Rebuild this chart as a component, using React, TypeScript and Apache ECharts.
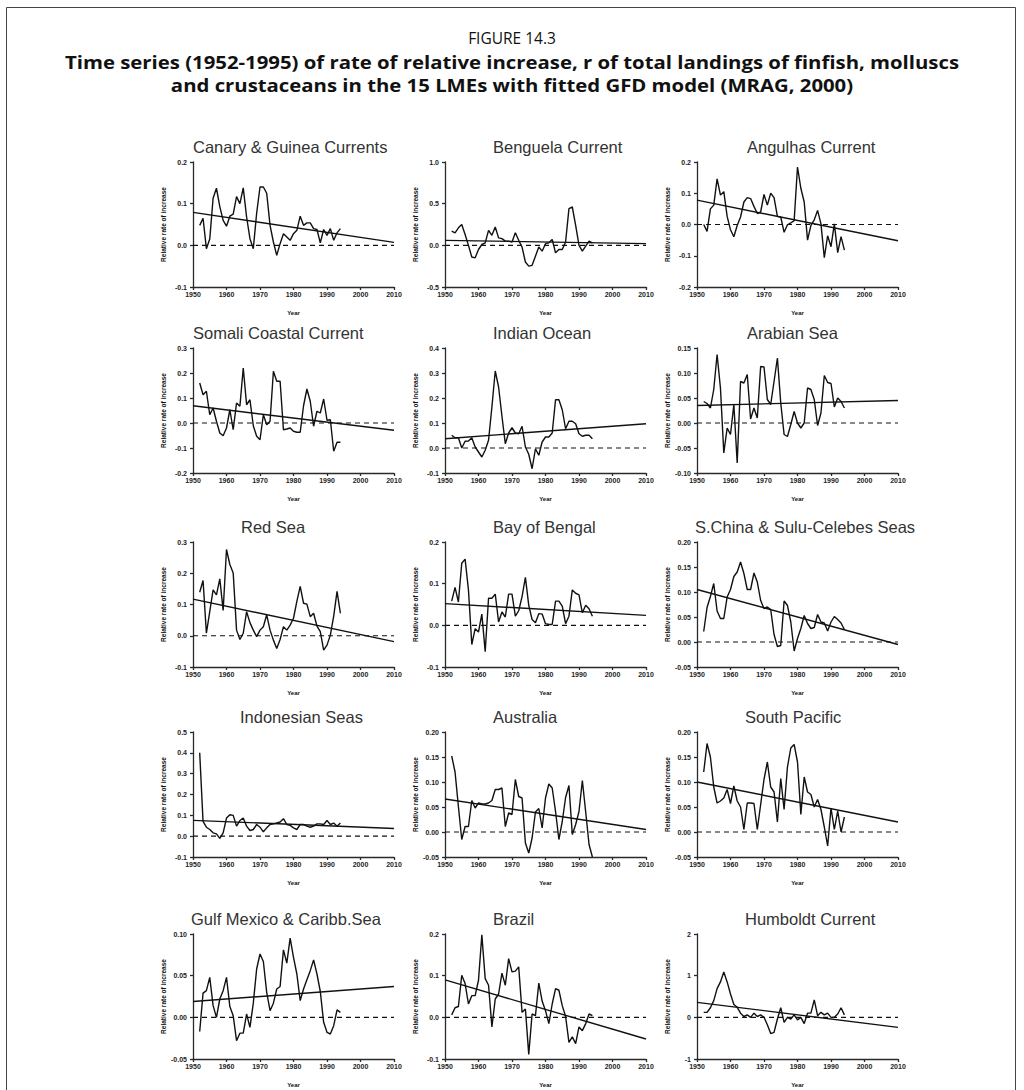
import React, { useEffect, useRef } from "react";
import * as echarts from "echarts";

// ---------- data ----------
const years = [
  1952, 1953, 1954, 1955, 1956, 1957, 1958, 1959,
  1960, 1961, 1962, 1963, 1964, 1965, 1966, 1967, 1968, 1969,
  1970, 1971, 1972, 1973, 1974, 1975, 1976, 1977, 1978, 1979,
  1980, 1981, 1982, 1983, 1984, 1985, 1986, 1987, 1988, 1989,
  1990, 1991, 1992, 1993, 1994,
];

const panelNames = [
  "Canary & Guinea Currents", "Benguela Current", "Angulhas Current",
  "Somali Coastal Current", "Indian Ocean", "Arabian Sea",
  "Red Sea", "Bay of Bengal", "S.China & Sulu-Celebes Seas",
  "Indonesian Seas", "Australia", "South Pacific",
  "Gulf Mexico & Caribb.Sea", "Brazil", "Humboldt Current",
];

const canary = [0.048, 0.065, -0.008, 0.015, 0.113, 0.137, 0.093, 0.06,
  0.046, 0.07, 0.075, 0.117, 0.10, 0.138, 0.068, 0.016, -0.008, 0.077,
  0.14, 0.14, 0.125, 0.048, 0.008, -0.024, 0.004, 0.028, 0.02, 0.012,
  0.028, 0.036, 0.07, 0.048, 0.054, 0.054, 0.04, 0.038, 0.006, 0.038,
  0.024, 0.04, 0.012, 0.03, 0.04];
const benguela = [0.17, 0.15, 0.21, 0.25, 0.13, 0, -0.14, -0.15,
  -0.05, 0.01, 0.03, 0.18, 0.12, 0.22, 0.09, 0.08, 0.05, 0.05,
  0.04, 0.15, 0.06, -0.02, -0.2, -0.25, -0.24, -0.13, -0.02, -0.07,
  0.02, 0.03, 0.07, -0.09, -0.05, -0.05, 0.04, 0.44, 0.46, 0.24,
  0, -0.07, -0.01, 0.05, 0.03];
const angulhas = [0, -0.022, 0.05, 0.062, 0.146, 0.094, 0.105, 0.026,
  -0.017, -0.039, -0.003, 0.024, 0.072, 0.086, 0.083, 0.058, 0.035, 0.04,
  0.096, 0.062, 0.1, 0.086, 0.026, 0.024, -0.025, -0.001, 0.005, 0.012,
  0.184, 0.116, 0.072, -0.05, -0.003, 0.015, 0.045, 0.002, -0.106, -0.036,
  -0.071, 0.002, -0.09, -0.039, -0.082];
const somali = [0.16, 0.113, 0.127, 0.033, 0.06, 0.007, -0.04, -0.051,
  -0.02, 0.053, -0.027, 0.08, 0.067, 0.22, 0.073, 0.093, -0.011, -0.053,
  -0.067, 0.033, -0.007, 0.007, 0.207, 0.167, 0.167, -0.027, -0.024, -0.02,
  -0.033, -0.037, -0.037, 0.069, 0.136, 0.087, -0.013, 0.047, 0.04, 0.096,
  0.011, 0.013, -0.113, -0.077, -0.077];
const indian = [0.051, 0.041, 0.041, 0, 0.027, 0.028, 0.041, 0.004,
  -0.016, -0.036, -0.009, 0.031, 0.164, 0.308, 0.244, 0.127, 0.017, 0.06,
  0.081, 0.06, 0.057, 0.087, 0.004, -0.025, -0.083, -0.003, -0.029, 0.024,
  0.044, 0.044, 0.06, 0.193, 0.193, 0.153, 0.077, 0.107, 0.107, 0.097,
  0.057, 0.047, 0.051, 0.051, 0.037];
const arabian = [0.043, 0.039, 0.03, 0.067, 0.137, 0.07, -0.06, -0.01,
  -0.023, 0.037, -0.08, 0.083, 0.08, 0.097, 0.008, 0.03, 0.01, 0.113,
  0.112, 0.047, 0.037, 0.083, 0.13, 0.04, -0.023, -0.027, -0.003, 0.023,
  0, -0.01, 0, 0.07, 0.067, 0.047, -0.005, 0.02, 0.095, 0.081,
  0.079, 0.032, 0.05, 0.043, 0.03];
const redSea = [0.139, 0.177, 0.008, 0.077, 0.147, 0.131, 0.182, 0.081,
  0.276, 0.228, 0.201, 0.018, -0.012, 0.008, 0.077, 0.042, 0.018, -0.003,
  0.018, 0.029, 0.067, 0.018, -0.014, -0.041, -0.012, 0.029, 0.018, 0.034,
  0.056, 0.11, 0.158, 0.104, 0.101, 0.061, 0.072, 0.031, 0.013, -0.046,
  -0.03, 0.002, 0.063, 0.142, 0.072];
const bengal = [0.058, 0.091, 0.056, 0.149, 0.159, 0.085, -0.046, -0.008,
  -0.016, 0.027, -0.063, 0.065, 0.065, 0.075, 0.008, 0.032, 0.02, 0.075,
  0.075, 0.022, 0.035, 0.069, 0.115, 0.048, 0.014, 0.006, 0.028, 0.027,
  0.004, 0.002, 0.002, 0.058, 0.058, 0.046, 0.004, 0.022, 0.085, 0.077,
  0.073, 0.03, 0.048, 0.04, 0.022];
const sChina = [0.021, 0.069, 0.091, 0.117, 0.062, 0.047, 0.047, 0.09,
  0.105, 0.131, 0.14, 0.16, 0.137, 0.105, 0.105, 0.138, 0.12, 0.083,
  0.067, 0.07, 0.065, 0.015, -0.009, -0.007, 0.082, 0.073, 0.04, -0.018,
  0.007, 0.027, 0.053, 0.037, 0.027, 0.029, 0.055, 0.04, 0.038, 0.022,
  0.04, 0.051, 0.045, 0.038, 0.025];
const indonesian = [0.40, 0.071, 0.043, 0.032, 0.016, 0.011, -0.011, 0.016,
  0.087, 0.103, 0.1, 0.048, 0.075, 0.087, 0.048, 0.027, 0.032, 0.056,
  0.043, 0.021, 0.04, 0.056, 0.059, 0.063, 0.068, 0.084, 0.056, 0.052,
  0.04, 0.032, 0.056, 0.056, 0.048, 0.043, 0.048, 0.059, 0.059, 0.056,
  0.075, 0.056, 0.063, 0.048, 0.063];
const australia = [0.152, 0.12, 0.051, -0.015, 0.011, 0.011, 0.063, 0.048,
  0.058, 0.056, 0.056, 0.058, 0.063, 0.085, 0.085, 0.088, 0.011, 0.038,
  0.035, 0.105, 0.071, 0.068, -0.022, -0.042, -0.012, 0.04, 0.047, 0.008,
  0.068, 0.096, 0.088, 0.041, -0.015, 0.021, 0.069, 0.093, -0.005, 0.015,
  0.041, 0.103, 0.04, -0.025, -0.05];
const southPacific = [0.12, 0.177, 0.15, 0.09, 0.058, 0.062, 0.068, 0.085,
  0.057, 0.092, 0.062, 0.05, 0.005, 0.058, 0.058, 0.057, 0.005, 0.055,
  0.105, 0.14, 0.09, 0.08, 0.02, 0.107, 0.045, 0.13, 0.168, 0.175,
  0.14, 0.035, 0.11, 0.08, 0.075, 0.05, 0.065, 0.045, 0.01, -0.028,
  0.048, 0.005, 0.042, 0.0, 0.03];
const gulf = [-0.017, 0.029, 0.032, 0.048, 0.014, 0, 0.022, 0.032,
  0.048, 0.013, 0.002, -0.028, -0.019, -0.019, 0.004, -0.012, 0.017, 0.058,
  0.076, 0.067, 0.03, 0.008, 0.017, 0.034, 0.037, 0.081, 0.065, 0.095,
  0.072, 0.052, 0.02, 0.034, 0.045, 0.056, 0.069, 0.052, 0.031, -0.006,
  -0.018, -0.02, -0.01, 0.009, 0.006];
const brazil = [0.006, 0.023, 0.026, 0.101, 0.081, 0.032, 0.052, 0.052,
  0.089, 0.198, 0.093, 0.077, -0.023, 0.044, 0.056, 0.106, 0.077, 0.141,
  0.109, 0.111, 0.121, 0.012, 0.02, -0.089, 0.008, 0.004, 0.082, 0.039,
  0.016, -0.015, 0.032, 0.069, 0.065, 0.028, 0.002, -0.06, -0.047, -0.063,
  -0.023, -0.032, -0.015, 0.008, 0.004];
const humboldt = [0.12, 0.12, 0.23, 0.4, 0.69, 0.85, 1.09, 0.85,
  0.56, 0.31, 0.24, 0.1, 0.02, 0.06, 0, 0.1, 0.02, 0.06,
  0, -0.18, -0.39, -0.36, -0.04, 0.23, -0.12, 0, -0.04, 0.06,
  -0.06, 0, -0.15, 0.1, 0.1, 0.42, 0.04, 0.12, 0.06, 0.1,
  0, 0, 0.08, 0.23, 0.06];

const panelSeries = [canary, benguela, angulhas, somali, indian, arabian,
  redSea, bengal, sChina, indonesian, australia, southPacific, gulf, brazil, humboldt];

// fitted GFD model line: value at 1950 and at 2010
const fitStart = [0.079, 0.06, 0.078, 0.069, 0.037, 0.035, 0.117, 0.052, 0.105, 0.076, 0.066, 0.10, 0.019, 0.09, 0.36];
const fitEnd = [0.007, 0.02, -0.052, -0.029, 0.097, 0.045, -0.019, 0.024, -0.005, 0.037, 0.005, 0.02, 0.037, -0.052, -0.24];

// y-axis ticks
const yMin = [-0.1, -0.5, -0.2, -0.2, -0.1, -0.1, -0.1, -0.1, -0.05, -0.1, -0.05, -0.05, -0.05, -0.1, -1];
const yMax = [0.2, 1.0, 0.2, 0.3, 0.4, 0.15, 0.3, 0.2, 0.2, 0.5, 0.2, 0.2, 0.1, 0.2, 2];
const yStep = [0.1, 0.5, 0.1, 0.1, 0.1, 0.05, 0.1, 0.1, 0.05, 0.1, 0.05, 0.05, 0.05, 0.1, 1];
const yDecimals = [1, 1, 1, 1, 1, 2, 1, 1, 2, 1, 2, 2, 2, 1, 0];

const xTicks = [1950, 1960, 1970, 1980, 1990, 2000, 2010];

const figureLabel = "FIGURE 14.3";
const captionLine1 = "Time series (1952-1995) of rate of relative increase, r of total landings of finfish, molluscs";
const captionLine2 = "and crustaceans in the 15 LMEs with fitted GFD model (MRAG, 2000)";

// ---------- layout ----------
const colLeft = [193, 445, 697];
const plotW = 201;
const rowTop = [162, 348, 542, 732, 934];
const plotH = 125;
const titleLeft = [193, 493, 747, 193, 493, 747, 241, 493, 695, 240, 493, 745, 191, 493, 745];

const ink = "#111";
const axisInk = "#2a2a2a";

export default function App() {
  const ref = useRef<HTMLDivElement>(null);
  useEffect(() => {
    if (!ref.current) return;
    const chart = echarts.init(ref.current, undefined, { renderer: "svg" });
    const grid: any[] = [];
    const xAxis: any[] = [];
    const yAxis: any[] = [];
    const series: any[] = [];
    const graphic: any[] = [];

    panelNames.forEach((name, i) => {
      const col = i % 3;
      const row = Math.floor(i / 3);
      grid.push({ left: colLeft[col], top: rowTop[row], width: plotW, height: plotH, containLabel: false });
      xAxis.push({
        gridIndex: i, type: "value", min: xTicks[0], max: xTicks[xTicks.length - 1], interval: 10,
        name: "Year", nameLocation: "middle", nameGap: 23,
        nameTextStyle: { fontSize: 6, fontWeight: "bold", color: ink, fontFamily: "Liberation Sans" },
        axisLine: { show: true, onZero: false, lineStyle: { color: axisInk, width: 1.3 } },
        axisTick: { show: true, length: 3, lineStyle: { color: axisInk, width: 1.3 } },
        axisLabel: { fontSize: 7, fontWeight: "bold", color: "#222", margin: 4, fontFamily: "Liberation Sans", formatter: (v: number) => String(v) },
        splitLine: { show: false },
      });
      yAxis.push({
        gridIndex: i, type: "value", min: yMin[i], max: yMax[i], interval: yStep[i],
        name: "Relative rate of increase", nameLocation: "middle", nameGap: 26, nameRotate: 90,
        nameTextStyle: { fontSize: 6.5, fontWeight: "bold", color: ink, fontFamily: "Liberation Sans" },
        axisLine: { show: true, onZero: false, lineStyle: { color: axisInk, width: 1.3 } },
        axisTick: { show: true, length: 3, lineStyle: { color: axisInk, width: 1.3 } },
        axisLabel: { fontSize: 7, fontWeight: "bold", color: "#222", margin: 6, fontFamily: "Liberation Sans",
          formatter: (v: number) => v.toFixed(yDecimals[i]) },
        splitLine: { show: false },
      });
      series.push({
        type: "line", xAxisIndex: i, yAxisIndex: i, showSymbol: false, silent: true,
        data: [[xTicks[0], 0], [xTicks[xTicks.length - 1], 0]],
        lineStyle: { color: ink, width: 1.2, type: [5, 4] },
      });
      series.push({
        type: "line", xAxisIndex: i, yAxisIndex: i, showSymbol: false, silent: true,
        data: [[xTicks[0], fitStart[i]], [xTicks[xTicks.length - 1], fitEnd[i]]],
        lineStyle: { color: ink, width: 1.4 },
      });
      series.push({
        type: "line", xAxisIndex: i, yAxisIndex: i, showSymbol: false, silent: true,
        data: years.map((y, k) => [y, panelSeries[i][k]]),
        lineStyle: { color: ink, width: 1.4 },
      });
      graphic.push({
        type: "text", x: titleLeft[i], y: rowTop[row] - 15,
        style: { text: name, fontSize: 16.5, fontFamily: "Liberation Sans", fill: "#333", align: "left", verticalAlign: "middle" },
      });
    });

    graphic.push({
      type: "rect", shape: { x: 6.5, y: 7.5, width: 1009, height: 1100 },
      style: { fill: "none", stroke: "#444", lineWidth: 1 },
    });
    graphic.push({
      type: "text", x: 512, y: 38,
      style: { text: figureLabel, fontSize: 15.5, fontFamily: "Open Sans", fill: "#111", align: "center", verticalAlign: "middle" },
    });
    graphic.push({
      type: "text", x: 512, y: 62, scaleX: 1.13, scaleY: 1,
      style: { text: captionLine1, fontSize: 18, fontWeight: "bold", fontFamily: "Open Sans", fill: "#111", align: "center", verticalAlign: "middle" },
    });
    graphic.push({
      type: "text", x: 512, y: 85, scaleX: 1.13, scaleY: 1,
      style: { text: captionLine2, fontSize: 18, fontWeight: "bold", fontFamily: "Open Sans", fill: "#111", align: "center", verticalAlign: "middle" },
    });

    chart.setOption({
      animation: false,
      backgroundColor: "#fff",
      grid, xAxis, yAxis, series, graphic,
    });
    return () => chart.dispose();
  }, []);
  return (
    <div
      ref={ref}
      style={{ position: "absolute", left: 0, top: 0, width: 1024, height: 1090 }}
    />
  );
}
